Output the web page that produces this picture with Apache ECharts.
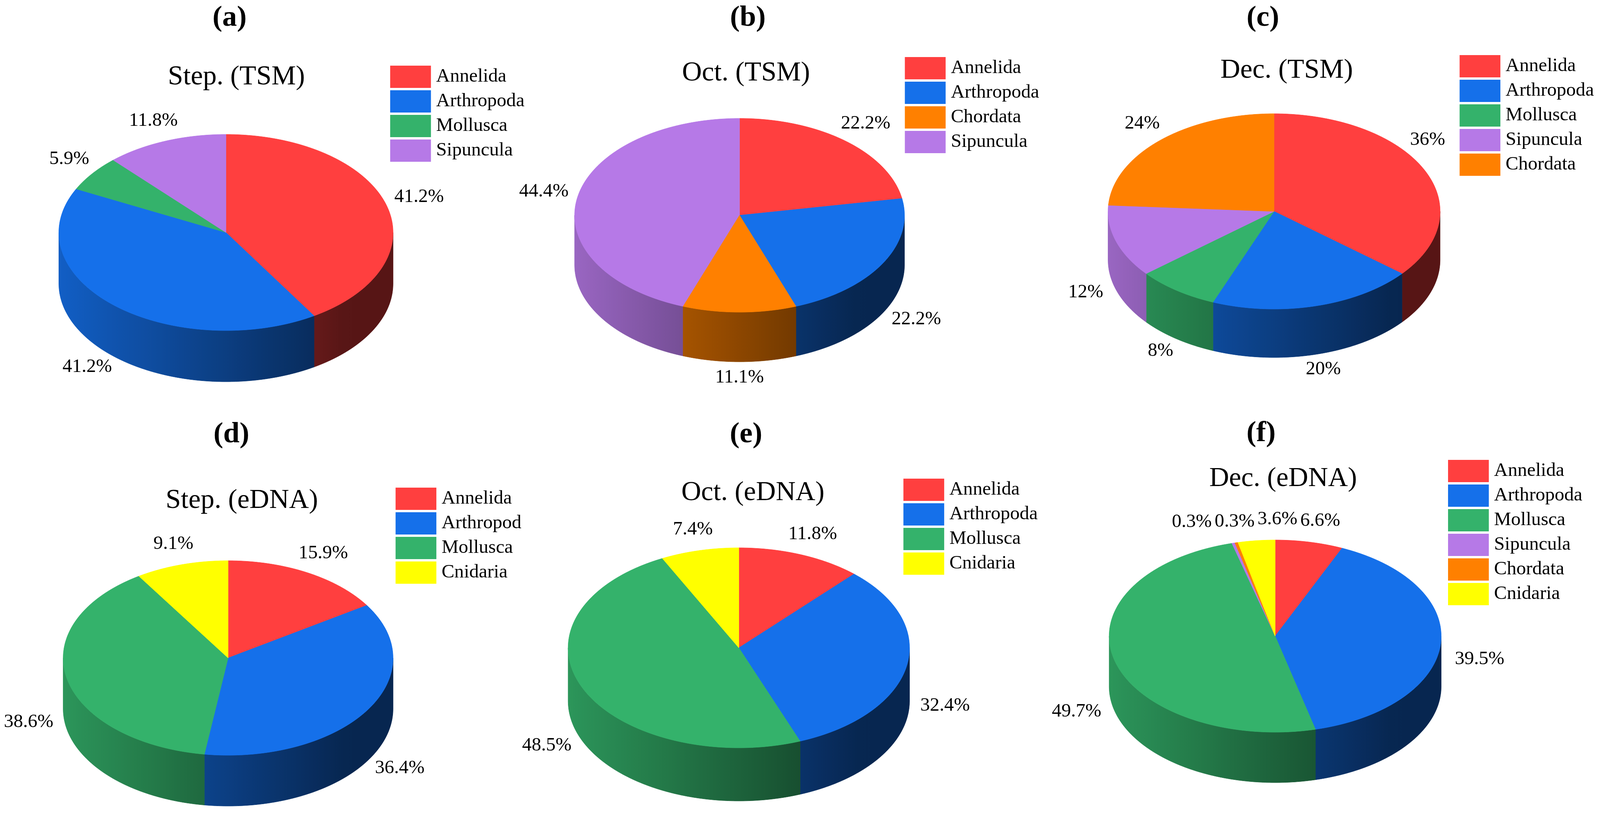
<!DOCTYPE html>
<html>
<head>
<meta charset="utf-8">
<title>Phylum composition, TSM vs eDNA</title>
<script src="https://cdn.jsdelivr.net/npm/echarts@6/dist/echarts.min.js"></script>
<style>
  html, body { margin: 0; padding: 0; background: #fff; overflow: hidden; }
  #chart { width: 100vw; height: 100vh; }
</style>
</head>
<body>
<div id="chart"></div>
<script>
// ---- data ----
const panelLetters = ['(a)', '(b)', '(c)', '(d)', '(e)', '(f)'];
const panelTitles = ['Step. (TSM)', 'Oct. (TSM)', 'Dec. (TSM)', 'Step. (eDNA)', 'Oct. (eDNA)', 'Dec. (eDNA)'];

const catsA = ['Annelida', 'Arthropoda', 'Mollusca', 'Sipuncula'];
const valsA = [41.2, 41.2, 5.9, 11.8];
const catsB = ['Annelida', 'Arthropoda', 'Chordata', 'Sipuncula'];
const valsB = [22.2, 22.2, 11.1, 44.4];
const catsC = ['Annelida', 'Arthropoda', 'Mollusca', 'Sipuncula', 'Chordata'];
const valsC = [36, 20, 8, 12, 24];
const catsD = ['Annelida', 'Arthropoda', 'Mollusca', 'Cnidaria'];
const valsD = [15.9, 36.4, 38.6, 9.1];
const catsE = ['Annelida', 'Arthropoda', 'Mollusca', 'Cnidaria'];
const valsE = [11.8, 32.4, 48.5, 7.4];
const catsF = ['Annelida', 'Arthropoda', 'Mollusca', 'Sipuncula', 'Chordata', 'Cnidaria'];
const valsF = [6.6, 39.5, 49.7, 0.3, 0.3, 3.6];

const panelCats = [catsA, catsB, catsC, catsD, catsE, catsF];
const panelVals = [valsA, valsB, valsC, valsD, valsE, valsF];

// ---- look (design units: a 4433 x 2091 page) ----
const FONT = "'Liberation Serif', 'Times New Roman', serif";
const catColors = {
  Annelida: '#FF3F3F',
  Arthropoda: '#1570EA',
  Mollusca: '#34B26B',
  Sipuncula: '#B679E7',
  Chordata: '#FF8000',
  Cnidaria: '#FFFF00'
};
const allCats = Object.keys(catColors);

// pie geometry per panel (centre of top face, radii, wall depth)
const geo = [
  { cx: 626,  cy: 595,  rx: 463, ry: 251, depth: 131 },
  { cx: 2049, cy: 551,  rx: 457, ry: 248, depth: 127 },
  { cx: 3530, cy: 541,  rx: 460, ry: 250, depth: 124 },
  { cx: 632,  cy: 1684, rx: 457, ry: 249, depth: 130 },
  { cx: 2047, cy: 1658, rx: 473, ry: 256, depth: 136 },
  { cx: 3533, cy: 1628, rx: 460, ry: 246, depth: 129 }
];
const letterPos = [[636, 47], [2072, 47], [3499, 47], [641, 1113], [2067, 1113], [3494, 1110]];
const titlePos = [[655, 198], [2067, 188], [3565, 181], [670, 1282], [2086, 1262], [3555, 1226]];
const legendPos = [[1081, 168], [2507, 146], [4044, 141], [1096, 1248], [2503, 1225], [4012, 1177]];

// fit the design page to the actual window
const dom = document.getElementById('chart');
const SX = dom.clientWidth / 4433, SY = dom.clientHeight / 2091;
const SF = (SX + SY) / 2;
const X = v => v * SX, Y = v => v * SY, F = v => v * SF;
const LABEL_SIZE = F(51);
const G = geo.map(g => ({ cx: X(g.cx), cy: Y(g.cy), rx: X(g.rx), ry: Y(g.ry), depth: Y(g.depth) }));

function shade(hex, k) {
  const n = parseInt(hex.slice(1), 16);
  const r = Math.round(((n >> 16) & 255) * k);
  const g = Math.round(((n >> 8) & 255) * k);
  const b = Math.round((n & 255) * k);
  return 'rgb(' + r + ',' + g + ',' + b + ')';
}
// wall lighting: lighter on the left, dark on the right
function wallLight(u) { return Math.max(0.34, 0.84 - 0.58 * u); }

// ---- label layout (outside the pie, kept off the legend and off each other) ----
const measureCtx = document.createElement('canvas').getContext('2d');
measureCtx.font = LABEL_SIZE + 'px ' + FONT;

function layoutLabels(p) {
  const g = G[p];
  const vals = panelVals[p];
  const total = vals.reduce((a, b) => a + b, 0);
  const legL = X(legendPos[p][0]), legT = Y(legendPos[p][1]);
  const legB = legT + Y(63) * panelCats[p].length;
  let acc = 0;
  const labs = vals.map(v => {
    const mid = (acc + v / 2) / total * Math.PI * 2;
    acc += v;
    const s = Math.sin(mid), c = Math.cos(mid);
    const text = v + '%';
    const w = measureCtx.measureText(text).width;
    let x, y = g.cy - g.ry * c;
    if (c >= 0) {
      x = g.cx + g.rx * s + s * (w / 2 + X(25));
      y -= Y(10 + 45 * c);
    } else {
      x = g.cx + g.rx * s + s * (w / 2 + X(40));
      y += -Y(10) + g.depth * Math.min(1, -c * 4) + Y(50) * (-c);
    }
    // keep clear of the legend block
    if (x + w / 2 > legL - X(40) && y > legT - LABEL_SIZE / 2 && y < legB + LABEL_SIZE / 2) {
      x = legL - X(40) - w / 2;
    }
    return { x, y, w, text, top: c >= 0 };
  });
  for (let it = 0; it < 200; it++) {
    for (let i = 0; i < labs.length; i++) {
      for (let j = i + 1; j < labs.length; j++) {
        const a = labs[i], b = labs[j];
        if (Math.abs(a.y - b.y) > LABEL_SIZE * 0.9) continue;
        const need = (a.w + b.w) / 2 + X(8);
        const d = b.x - a.x;
        if (Math.abs(d) >= need) continue;
        const dir = d >= 0 ? 1 : -1;
        const push = (need - Math.abs(d)) / 2;
        a.x -= dir * push;
        b.x += dir * push;
      }
    }
  }
  // labels above the pie must sit clear of the top rim
  labs.forEach(L => {
    if (!L.top) return;
    const l = L.x - L.w / 2, r = L.x + L.w / 2;
    const xi = Math.min(Math.max(g.cx, l), r);
    const q = (xi - g.cx) / g.rx;
    const rimY = g.cy - g.ry * Math.sqrt(Math.max(0, 1 - q * q));
    L.y = Math.min(L.y, rimY - LABEL_SIZE / 2 - Y(15));
  });
  return labs;
}
const labelLayout = panelVals.map((v, p) => layoutLabels(p));

// ---- series data: one custom series per phylum ----
function seriesData(name) {
  const out = [];
  panelCats.forEach((cats, p) => {
    const vals = panelVals[p];
    const total = vals.reduce((a, b) => a + b, 0);
    let acc = 0;
    cats.forEach((c, i) => {
      const s = acc / total;
      acc += vals[i];
      if (c === name) out.push({ name: c, value: [p, i, s, acc / total] });
    });
  });
  return out;
}

function arcPoints(g, t0, t1, dy, pts) {
  const n = Math.max(2, Math.ceil((t1 - t0) / (Math.PI / 360)));
  for (let k = 0; k <= n; k++) {
    const t = t0 + (t1 - t0) * k / n;
    pts.push([g.cx + g.rx * Math.sin(t), g.cy - g.ry * Math.cos(t) + dy]);
  }
  return pts;
}

function renderSlice(params, api) {
  const p = api.value(0), idx = api.value(1);
  const t0 = api.value(2) * Math.PI * 2, t1 = api.value(3) * Math.PI * 2;
  const g = G[p];
  const color = api.visual('color');
  const children = [];

  // front wall (only the part facing the viewer)
  const a = Math.max(t0, Math.PI / 2), b = Math.min(t1, Math.PI * 1.5);
  if (b > a) {
    const pts = arcPoints(g, a, b, 0, []);
    const back = arcPoints(g, a, b, g.depth, []).reverse();
    const stops = [];
    for (let k = 0; k <= 20; k++) {
      stops.push({ offset: k / 20, color: shade(color, wallLight(k / 20)) });
    }
    const grad = new echarts.graphic.LinearGradient(g.cx - g.rx, 0, g.cx + g.rx, 0, stops, true);
    children.push({
      type: 'polygon', z2: 1,
      shape: { points: pts.concat(back) },
      style: { fill: grad, stroke: grad, lineWidth: 1 }
    });
  }

  // top face
  children.push({
    type: 'polygon', z2: 2,
    shape: { points: arcPoints(g, t0, t1, 0, [[g.cx, g.cy]]) },
    style: { fill: color, stroke: color, lineWidth: 1 }
  });

  // percentage label
  const L = labelLayout[p][idx];
  children.push({
    type: 'text', z2: 5,
    x: L.x, y: L.y,
    style: {
      text: L.text, fontSize: LABEL_SIZE, fontFamily: FONT, fill: '#000',
      align: 'center', verticalAlign: 'middle'
    }
  });
  return { type: 'group', children };
}

const chart = echarts.init(dom, null, { renderer: 'canvas' });

const titles = panelLetters.map((t, i) => ({
  text: t, left: X(letterPos[i][0]), top: Y(letterPos[i][1]) - F(47), textAlign: 'center', padding: 0,
  textStyle: { fontSize: F(78), fontWeight: 'bold', fontFamily: FONT, color: '#000', lineHeight: F(94) }
})).concat(panelTitles.map((t, i) => ({
  text: t, left: X(titlePos[i][0]), top: Y(titlePos[i][1]) - F(44), textAlign: 'center', padding: 0,
  textStyle: { fontSize: F(73), fontWeight: 'normal', fontFamily: FONT, color: '#000', lineHeight: F(88) }
})));

const legends = panelCats.map((cats, i) => {
  const ts = { fontSize: LABEL_SIZE, fontFamily: FONT, color: '#000', lineHeight: Y(57), padding: [0, 0, 0, X(9)] };
  if (i === 3) { ts.width = F(215); ts.overflow = 'truncate'; ts.ellipsis = ''; }
  return {
    data: cats, orient: 'vertical', left: X(legendPos[i][0]), top: Y(legendPos[i][1]),
    itemWidth: X(113), itemHeight: Y(57), itemGap: Y(6), icon: 'rect', padding: 0,
    selectedMode: false, textStyle: ts
  };
});

chart.setOption({
  backgroundColor: '#fff',
  animation: false,
  title: titles,
  legend: legends,
  series: allCats.map(name => ({
    type: 'custom',
    name: name,
    coordinateSystem: 'none',
    itemStyle: { color: catColors[name] },
    renderItem: renderSlice,
    data: seriesData(name)
  }))
});
</script>
</body>
</html>
